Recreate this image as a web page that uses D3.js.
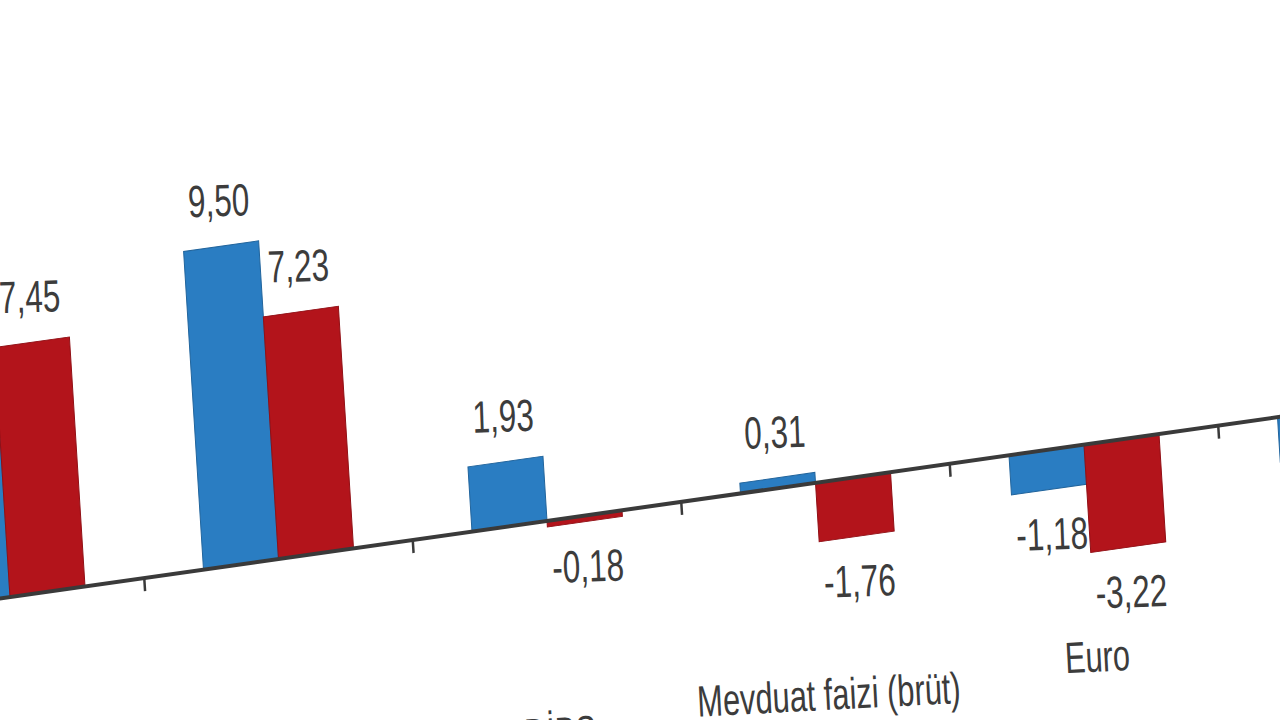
<!DOCTYPE html>
<html>
<head>
<meta charset="utf-8">
<script src="https://cdn.jsdelivr.net/npm/d3@7"></script>
<style>
  html, body { margin: 0; padding: 0; background: #fff; }
  svg { display: block; overflow: hidden; }
  .val, .cat { font-family: "Liberation Sans", Arial, sans-serif; fill: #3c3c3c; }
</style>
</head>
<body>
<div class="chart"></div>
<script>
// the picture is a tilted photo of a grouped bar chart, so the plot gets a skew matrix
const categories = ["BIST 100", "Külçe altın", "DİBS", "Mevduat faizi (brüt)", "Euro", "ABD doları"];
const seriesKeys = ["blue", "red"];
const blueValues = [8.12, 9.50, 1.93, 0.31, -1.18, -1.34];
const redValues = [7.45, 7.23, -0.18, -1.76, -3.22, -2.10];
const yDomain = [-6, 10];

const colors = { blue: "#2a7dc2", red: "#b3141b" };

let width = 1280;
let height = 720;
let slope = -0.142;   // how much the axis climbs to the right
let lean = 0.0625;    // how much the bars lean
let originY = 598.6;
let svg, plot, labels, x0, x1, yScale, theData;

let fmt = d3.formatLocale({
    decimal: ",", thousands: ".", grouping: [3], currency: ["", ""], minus: "-"
}).format(".2f");

init();

function init() {
    theData = categories.map((c, i) => {
        return {
            cat: c,
            values: [
                { key: "blue", val: blueValues[i] },
                { key: "red", val: redValues[i] }
            ]
        };
    });
    setScales();
    appendElements();
}

function project(u, v) {
    return [u + lean * v, slope * u + v + originY];
}

function setScales() {
    let step = 268.5;
    let p = (step - 150) / step;
    x0 = d3.scaleBand()
        .domain(categories)
        .range([10 - step / 2, 10 - step / 2 + step * categories.length])
        .paddingInner(p)
        .paddingOuter(p / 2);

    x1 = d3.scaleBand()
        .domain(seriesKeys)
        .range([0, x0.bandwidth()]);

    // 0 sits on the axis line (v = 0), about 33.5px per point
    yScale = d3.scaleLinear()
        .domain(yDomain)
        .range([-yDomain[0] * 33.5, -yDomain[1] * 33.5]);
}

function appendElements() {
    svg = d3.select(".chart").append("svg")
        .attr("width", width)
        .attr("height", height);

    plot = svg.append("g")
        .attr("transform", `matrix(1,${slope},${lean},1,0,${originY})`);

    let groups = plot.selectAll(".grp")
        .data(theData)
        .enter()
        .append("g")
        .attr("class", "grp")
        .attr("transform", d => `translate(${x0(d.cat)},0)`);

    groups.selectAll("rect")
        .data(d => d.values)
        .enter()
        .append("rect")
        .attr("x", d => x1(d.key))
        .attr("y", d => Math.min(yScale(d.val), yScale(0)))
        .attr("width", x1.bandwidth())
        .attr("height", d => Math.abs(yScale(d.val) - yScale(0)))
        .attr("fill", d => colors[d.key])
        .attr("stroke", d => d3.color(colors[d.key]).darker(0.6))
        .attr("stroke-width", 1);

    // axis line and tick marks between the groups
    plot.append("line")
        .attr("x1", -200).attr("x2", 1600)
        .attr("y1", yScale(0)).attr("y2", yScale(0))
        .attr("stroke", "#3a3a3a")
        .attr("stroke-width", 4);

    let gap = x0.step() - x0.bandwidth();
    let tickPos = categories.map(c => x0(c) - gap / 2);
    tickPos.push(x0(categories[categories.length - 1]) + x0.bandwidth() + gap / 2);

    plot.selectAll(".tick")
        .data(tickPos)
        .enter()
        .append("line")
        .attr("class", "tick")
        .attr("x1", d => d).attr("x2", d => d)
        .attr("y1", yScale(0)).attr("y2", yScale(0) + 13)
        .attr("stroke", "#3a3a3a")
        .attr("stroke-width", 2.5);

    labels = svg.append("g");

    // value labels, outside the end of each bar
    let valData = [];
    theData.forEach(d => {
        d.values.forEach(v => {
            let u = x0(d.cat) + x1(v.key) + x1.bandwidth() / 2;
            let vv = v.val >= 0 ? yScale(v.val) - 30 : yScale(v.val) + 60;
            valData.push({ text: fmt(v.val), pos: project(u, vv) });
        });
    });

    labels.selectAll(".val")
        .data(valData)
        .enter()
        .append("text")
        .attr("class", "val")
        .attr("text-anchor", "middle")
        .attr("font-size", 45)
        .attr("transform", d => `translate(${d.pos[0]},${d.pos[1]}) rotate(-2) scale(0.7,1)`)
        .text(d => d.text);

    // category names sit at the bottom of the plot area
    labels.selectAll(".cat")
        .data(categories)
        .enter()
        .append("text")
        .attr("class", "cat")
        .attr("text-anchor", "middle")
        .attr("font-size", 44)
        .attr("transform", d => {
            let p = project(x0(d) + x0.bandwidth() / 2, yScale(yDomain[0]) + 26);
            return `translate(${p[0]},${p[1]}) rotate(-3) scale(0.7,1)`;
        })
        .text(d => d);
}
</script>
</body>
</html>
